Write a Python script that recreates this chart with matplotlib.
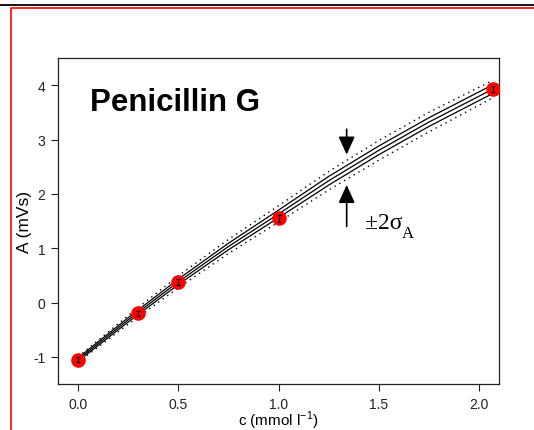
import numpy as np
import matplotlib.pyplot as plt
from matplotlib.lines import Line2D

plt.rcParams['font.family'] = ['Liberation Sans', 'DejaVu Sans']
plt.rcParams['axes.unicode_minus'] = False

# measured points
conc = [0.0, 0.3, 0.5, 1.0, 2.07]
area = [-1.05, -0.2, 0.38, 1.55, 3.93]
area_err = [0.05, 0.05, 0.05, 0.06, 0.06]

# fitted curve and bands
fit_c = [0.0, 0.25, 0.5, 0.75, 1.0, 1.25, 1.5, 1.75, 2.07]
fit_a = [-1.05, -0.32, 0.38, 1.03, 1.63, 2.24, 2.80, 3.32, 3.93]
conf_hw = [0.03, 0.04, 0.05, 0.06, 0.07, 0.08, 0.08, 0.08, 0.08]
pred_hw = [0.05, 0.08, 0.11, 0.13, 0.15, 0.17, 0.18, 0.18, 0.16]

fig = plt.figure(figsize=(5.34, 4.31), dpi=100)
ax = fig.add_axes([0.1086, 0.1067, 0.8259, 0.7564])

fc = np.array(fit_c)
fa = np.array(fit_a)
ch = np.array(conf_hw)
ph = np.array(pred_hw)

ax.plot(fc, fa, color='black', lw=0.9)
ax.plot(fc, fa + ch, color='black', lw=0.9)
ax.plot(fc, fa - ch, color='black', lw=0.9)
ax.plot(fc, fa + ph, color='black', lw=1.0, ls=(0, (1, 3)))
ax.plot(fc, fa - ph, color='black', lw=1.0, ls=(0, (1, 3)))

ax.plot(conc, area, 'o', color='red', ms=9.5, zorder=3)
ax.errorbar(conc, area, yerr=area_err, fmt='none', ecolor='black',
            elinewidth=0.8, capsize=1.5, capthick=0.8, zorder=4)

# +-2 sigma arrows
ax.annotate('', xy=(1.34, 2.67), xytext=(1.34, 3.24),
            arrowprops=dict(arrowstyle='-|>,head_length=1.1,head_width=0.5',
                            color='black', lw=1.2))
ax.annotate('', xy=(1.34, 2.215), xytext=(1.34, 1.35),
            arrowprops=dict(arrowstyle='-|>,head_length=1.1,head_width=0.5',
                            color='black', lw=1.2))
t = ax.text(1.43, 1.37, '\u00b12\u03c3', fontsize=17, family='Liberation Serif',
            va='baseline')
ax.annotate('A', xy=(1.0, 0.0), xycoords=t, xytext=(0, 0),
            textcoords='offset points', fontsize=12,
            family='Liberation Serif', ha='left', va='center')

ax.text(0.06, 3.55, 'Penicillin G', fontsize=22.5, fontweight='bold',
        va='baseline')

ax.set_xlim(-0.1, 2.1)
ax.set_ylim(-1.5, 4.5)
ax.set_xticks([0.0, 0.5, 1.0, 1.5, 2.0])
ax.set_xticklabels(['0.0', '0.5', '1.0', '1.5', '2.0'])
ax.set_yticks([-1, 0, 1, 2, 3, 4])
ax.tick_params(direction='out', length=5, width=0.8, labelsize=10,
               colors='#222222', pad=4)
ax.set_xlabel(r'c (mmol l$^{\mathregular{-1}}$)', fontsize=11, labelpad=-1)
ax.set_ylabel('A (mVs)', fontsize=12.5, labelpad=1)
for s in ax.spines.values():
    s.set_linewidth(0.9)
    s.set_color('#222222')

# outer frame lines
fig.add_artist(Line2D([0, 1], [1 - 5.5 / 431, 1 - 5.5 / 431],
                      color='black', lw=1.3, transform=fig.transFigure))
fig.add_artist(Line2D([11 / 534, 11 / 534, 1], [0, 1 - 9 / 431, 1 - 9 / 431],
                      color='red', lw=1.2, transform=fig.transFigure))

fig.savefig('out.png', dpi=100)
